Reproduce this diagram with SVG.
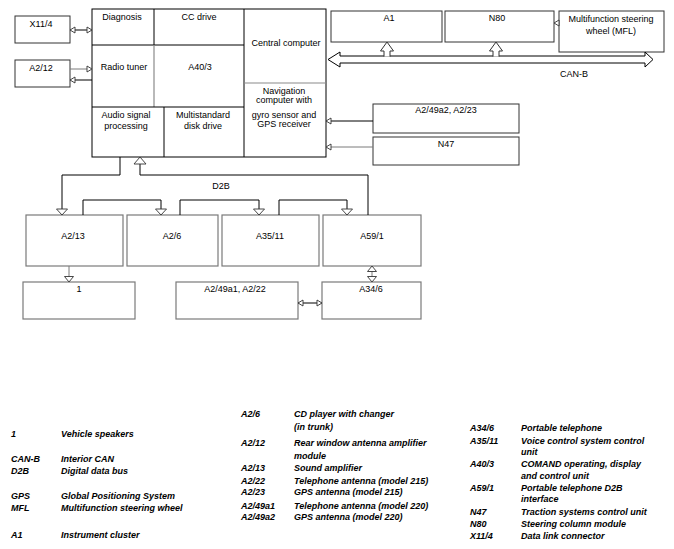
<svg xmlns="http://www.w3.org/2000/svg" width="674" height="549" viewBox="0 0 674 549">
<style>
text{font-family:"Liberation Sans",Arial,sans-serif;font-size:9px;fill:#000}
.c{text-anchor:middle}
.lg{font-weight:bold;font-style:italic}
.bx{fill:#fff;stroke:#333;stroke-width:1}
.bg{fill:#fff;stroke:#7a7a7a;stroke-width:1.2}
.ln{fill:none;stroke:#000;stroke-width:1}
.lg2{fill:none;stroke:#7a7a7a;stroke-width:1}
.gi{fill:none;stroke:#8a8a8a;stroke-width:1.2}
.hd{fill:#fff;stroke:#333;stroke-width:0.9}
</style>
<defs>
<marker id="s" viewBox="0 0 5 6" refX="5" refY="3" markerWidth="5" markerHeight="6" orient="auto-start-reverse" markerUnits="userSpaceOnUse" overflow="visible"><path d="M0,0 L5,3 L0,6 Z" class="hd"/></marker>
<marker id="t" viewBox="0 0 5.5 9" refX="5.5" refY="4.5" markerWidth="5.5" markerHeight="9" orient="auto-start-reverse" markerUnits="userSpaceOnUse" overflow="visible"><path d="M0,0 L5.5,4.5 L0,9 Z" class="hd"/></marker>
<marker id="m" viewBox="0 0 6 11" refX="6" refY="5.5" markerWidth="6" markerHeight="11" orient="auto" markerUnits="userSpaceOnUse" overflow="visible"><path d="M0,0 L6,5.5 L0,11 Z" class="hd"/></marker>
<marker id="l" viewBox="0 0 7 12" refX="7" refY="6" markerWidth="7" markerHeight="12" orient="auto" markerUnits="userSpaceOnUse" overflow="visible"><path d="M0,0 L7,6 L0,12 Z" class="hd"/></marker>
</defs>

<g id="main">
<rect x="92" y="9" width="234" height="148" fill="#fff" stroke="#000"/>
<line x1="154" y1="9" x2="154" y2="45" class="ln"/>
<line x1="92" y1="45" x2="244" y2="45" class="ln"/>
<line x1="154" y1="45" x2="154" y2="107" class="gi"/>
<line x1="92" y1="107" x2="244" y2="107" class="ln"/>
<line x1="164" y1="107" x2="164" y2="157" class="ln"/>
<line x1="244" y1="9" x2="244" y2="157" class="ln"/>
<line x1="244" y1="83" x2="326" y2="83" class="gi"/>
<text x="122" y="20" class="c">Diagnosis</text>
<text x="199" y="20" class="c">CC drive</text>
<text x="286" y="46" class="c">Central computer</text>
<text x="124" y="70" class="c">Radio tuner</text>
<text x="200" y="70" class="c">A40/3</text>
<text x="284" y="94" class="c">Navigation</text>
<text x="284" y="103" class="c">computer with</text>
<text x="284" y="118" class="c">gyro sensor and</text>
<text x="284" y="127" class="c">GPS receiver</text>
<text x="126" y="118" class="c">Audio signal</text>
<text x="126" y="129" class="c">processing</text>
<text x="203" y="118" class="c">Multistandard</text>
<text x="203" y="129" class="c">disk drive</text>
</g>

<g id="x11_4"><rect x="15" y="16" width="55" height="27" class="bx"/><text x="41" y="27" class="c">X11/4</text></g>
<g id="a2_12"><rect x="15" y="60" width="55" height="27" class="bx"/><text x="41" y="71" class="c">A2/12</text></g>
<g id="a1"><rect x="331" y="11" width="111" height="31" class="bx"/><text x="389" y="21" class="c">A1</text></g>
<g id="n80"><rect x="445" y="11" width="109" height="31" class="bx"/><text x="497" y="21" class="c">N80</text></g>
<g id="mfl"><rect x="559" y="11" width="105" height="41" class="bx"/><text x="611" y="22" class="c">Multifunction steering</text><text x="611" y="34" class="c">wheel (MFL)</text></g>
<g id="a2_49a2"><rect x="373" y="104" width="146" height="29" class="bx"/><text x="446" y="113" class="c">A2/49a2, A2/23</text></g>
<g id="n47"><rect x="373" y="137" width="146" height="28" class="bx"/><text x="446" y="147" class="c">N47</text></g>
<g id="a2_13"><rect x="26" y="215" width="97" height="51" class="bg"/><text x="73" y="239" class="c">A2/13</text></g>
<g id="a2_6"><rect x="127" y="215" width="91" height="51" class="bg"/><text x="172" y="239" class="c">A2/6</text></g>
<g id="a35_11"><rect x="222" y="215" width="97" height="51" class="bg"/><text x="270" y="239" class="c">A35/11</text></g>
<g id="a59_1"><rect x="323" y="215" width="98" height="51" class="bg"/><text x="372" y="239" class="c">A59/1</text></g>
<g id="n1"><rect x="23" y="282" width="112" height="37" class="bg"/><text x="79" y="292" class="c">1</text></g>
<g id="a2_49a1"><rect x="176" y="282" width="122" height="37" class="bg"/><text x="235" y="292" class="c">A2/49a1, A2/22</text></g>
<g id="a34_6"><rect x="322" y="282" width="99" height="37" class="bg"/><text x="371" y="292" class="c">A34/6</text></g>

<g id="connectors">
<line x1="70" y1="30" x2="92" y2="30" class="ln" marker-start="url(#s)" marker-end="url(#s)"/>
<line x1="70" y1="69" x2="92" y2="69" class="lg2" marker-end="url(#s)"/>
<line x1="92" y1="80" x2="70" y2="80" class="ln" marker-end="url(#s)"/>
<line x1="373" y1="121" x2="326" y2="121" class="ln" marker-end="url(#s)"/>
<line x1="373" y1="147" x2="326" y2="147" class="lg2" marker-end="url(#s)"/>
<line x1="559" y1="23" x2="554" y2="23" class="lg2" marker-end="url(#s)"/>
<path d="M340,56 H645 V52 L653,59.5 L645,67 V63 H340 V67 L328,59.5 L340,52 Z" fill="#fff" stroke="#000"/>
<path d="M384,56.6 V51 H380.5 L387,42 L393.5,51 H390 V56.6" fill="#fff" stroke="#333"/>
<path d="M493,56.6 V51 H489.5 L496,42 L502.5,51 H499 V56.6" fill="#fff" stroke="#333"/>
<text x="574" y="77" class="c">CAN-B</text>
<path d="M120,157 V175 H62 V215" class="ln" marker-end="url(#m)"/>
<path d="M368,215 V175 H140 V157" class="ln" marker-end="url(#l)"/>
<path d="M83,215 V200 H161 V215" class="ln" marker-end="url(#m)"/>
<path d="M180,215 V200 H259 V215" class="ln" marker-end="url(#m)"/>
<path d="M279,215 V200 H347 V215" class="ln" marker-end="url(#m)"/>
<text x="221" y="189" class="c">D2B</text>
<line x1="69" y1="266" x2="69" y2="282" class="lg2" marker-end="url(#t)"/>
<line x1="372" y1="266" x2="372" y2="282" class="lg2" marker-start="url(#t)" marker-end="url(#t)"/>
<line x1="298" y1="303" x2="322" y2="303" class="ln" marker-start="url(#s)" marker-end="url(#s)"/>
</g>

<g id="legend" class="lg">
<text x="11" y="437" class="lg">1</text><text x="61" y="437" class="lg">Vehicle speakers</text>
<text x="11" y="462" class="lg">CAN-B</text><text x="61" y="462" class="lg">Interior CAN</text>
<text x="11" y="474" class="lg">D2B</text><text x="61" y="474" class="lg">Digital data bus</text>
<text x="11" y="499" class="lg">GPS</text><text x="61" y="499" class="lg">Global Positioning System</text>
<text x="11" y="511" class="lg">MFL</text><text x="61" y="511" class="lg">Multifunction steering wheel</text>
<text x="11" y="538" class="lg">A1</text><text x="61" y="538" class="lg">Instrument cluster</text>

<text x="241" y="417" class="lg">A2/6</text><text x="294" y="417" class="lg">CD player with changer</text>
<text x="294" y="430" class="lg">(in trunk)</text>
<text x="241" y="446" class="lg">A2/12</text><text x="294" y="446" class="lg">Rear window antenna amplifier</text>
<text x="294" y="459" class="lg">module</text>
<text x="241" y="471" class="lg">A2/13</text><text x="294" y="471" class="lg">Sound amplifier</text>
<text x="241" y="484" class="lg">A2/22</text><text x="294" y="484" class="lg">Telephone antenna (model 215)</text>
<text x="241" y="495" class="lg">A2/23</text><text x="294" y="495" class="lg">GPS antenna (model 215)</text>
<text x="241" y="509" class="lg">A2/49a1</text><text x="294" y="509" class="lg">Telephone antenna (model 220)</text>
<text x="241" y="520" class="lg">A2/49a2</text><text x="294" y="520" class="lg">GPS antenna (model 220)</text>

<text x="470" y="431" class="lg">A34/6</text><text x="521" y="431" class="lg">Portable telephone</text>
<text x="470" y="444" class="lg">A35/11</text><text x="521" y="444" class="lg">Voice control system control</text>
<text x="521" y="455" class="lg">unit</text>
<text x="470" y="467" class="lg">A40/3</text><text x="521" y="467" class="lg">COMAND operating, display</text>
<text x="521" y="479" class="lg">and control unit</text>
<text x="470" y="491" class="lg">A59/1</text><text x="521" y="491" class="lg">Portable telephone D2B</text>
<text x="521" y="502" class="lg">interface</text>
<text x="470" y="515" class="lg">N47</text><text x="521" y="515" class="lg">Traction systems control unit</text>
<text x="470" y="527" class="lg">N80</text><text x="521" y="527" class="lg">Steering column module</text>
<text x="470" y="539" class="lg">X11/4</text><text x="521" y="539" class="lg">Data link connector</text>
</g>
</svg>
